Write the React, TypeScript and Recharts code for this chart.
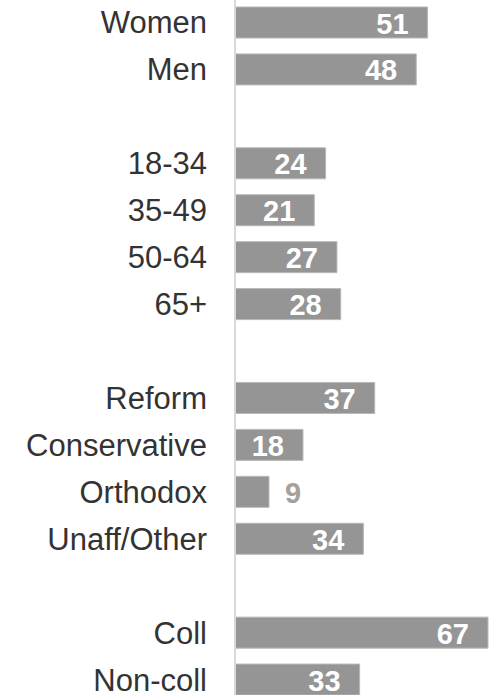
import React from 'react';
import { BarChart, Bar, XAxis, YAxis, LabelList } from 'recharts';

// Row labels; blank strings are the spacer rows between groups
const groups = ['Women', 'Men', '', '18-34', '35-49', '50-64', '65+', ' ', 'Reform', 'Conservative', 'Orthodox', 'Unaff/Other', '  ', 'Coll', 'Non-coll'];
const values = [51, 48, null, 24, 21, 27, 28, null, 37, 18, 9, 34, null, 67, 33];

const data = groups.map((name, i) => ({ name, value: values[i] }));

const FONT = '"Liberation Sans", Arial, sans-serif';

// White value at the end of the bar, or grey outside when the bar is too short
function ValueLabel(props: any) {
    const { x, y, width, height, value } = props;
    if (value == null) return null;
    const cy = y + height / 2;
    if (value < 10) {
        return (
            <text x={x + width + 16} y={cy + 11} fill="#a6a09b" fontSize={29} fontWeight="bold" fontFamily={FONT} textAnchor="start">
                {value}
            </text>
        );
    }
    return (
        <text x={x + width - 19} y={cy + 11} fill="#ffffff" fontSize={29} fontWeight="bold" fontFamily={FONT} textAnchor="end">
            {value}
        </text>
    );
}

export default function App() {
    return (
        <div style={{ position: 'absolute', left: 0, top: -1, width: 493, height: 704, background: '#fff' }}>
            <BarChart
                layout="vertical"
                width={493}
                height={704}
                data={data}
                margin={{ top: 0, right: 5, bottom: 0, left: 0 }}
            >
                <XAxis type="number" domain={[0, 67]} hide />
                <YAxis
                    type="category"
                    dataKey="name"
                    width={235}
                    tickLine={false}
                    tickSize={0}
                    tickMargin={28}
                    axisLine={{ stroke: '#d9d9d9', strokeWidth: 2 }}
                    tick={{ fill: '#333333', fontSize: 31, fontFamily: FONT }}
                    interval={0}
                />
                <Bar dataKey="value" fill="#959595" stroke="#b8b8b8" strokeWidth={1} barSize={31} isAnimationActive={false}>
                    <LabelList dataKey="value" content={ValueLabel} />
                </Bar>
            </BarChart>
        </div>
    );
}
